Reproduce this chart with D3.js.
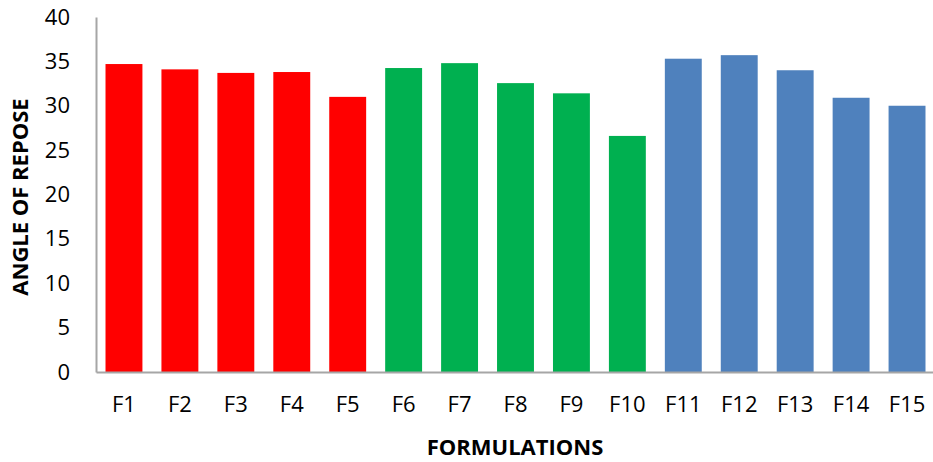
<!DOCTYPE html>
<html><head><meta charset="utf-8">
<script src="https://cdn.jsdelivr.net/npm/d3@7"></script>
<style>body{margin:0;background:#fff}svg{display:block}</style>
</head><body><svg id="c" width="933" height="462"></svg>
<script>
const categories = ["F1","F2","F3","F4","F5","F6","F7","F8","F9","F10","F11","F12","F13","F14","F15"];
const values = [34.7,34.1,33.7,33.8,31.0,34.25,34.8,32.55,31.4,26.6,35.3,35.7,34.0,30.9,30.0];
const groups = ["A","A","A","A","A","B","B","B","B","B","C","C","C","C","C"];
const groupColors = {A:"#FF0000", B:"#00B050", C:"#4F81BD"};
const yTicks = [0,5,10,15,20,25,30,35,40];

const svg = d3.select("#c");
const m = {l:96, r:-2, t:17, b:90};
const W = 933, H = 462;
const x = d3.scaleBand().domain(categories).range([m.l, W - m.r]).paddingInner(0.34).paddingOuter(0.17);
const y = d3.scaleLinear().domain([0,40]).range([H - m.b, m.t]);
const font = "'Open Sans', 'Liberation Sans', sans-serif";

svg.selectAll("rect.bar").data(categories).enter().append("rect")
  .attr("x", d => x(d)).attr("width", x.bandwidth())
  .attr("y", (d,i) => y(values[i])).attr("height", (d,i) => y(0) - y(values[i]))
  .attr("fill", (d,i) => groupColors[groups[i]]);

const ya = svg.append("g").attr("transform", `translate(${m.l},0)`)
  .call(d3.axisLeft(y).tickValues(yTicks).tickSize(0).tickPadding(26));
ya.select(".domain").attr("stroke", "#A6A6A6").attr("stroke-width", 2);
ya.selectAll("text").attr("font-family", font).attr("font-size", 22).attr("fill", "#000");

const xa = svg.append("g").attr("transform", `translate(0,${y(0)})`)
  .call(d3.axisBottom(x).tickSize(0).tickPadding(24));
xa.select(".domain").attr("stroke", "#A6A6A6").attr("stroke-width", 2);
xa.selectAll("text").attr("font-family", font).attr("font-size", 22).attr("fill", "#000");

svg.append("text").attr("x", 515).attr("y", 455).attr("text-anchor", "middle")
  .attr("font-family", font).attr("font-weight", "bold").attr("font-size", 22).text("FORMULATIONS");
svg.append("text").attr("transform", "translate(28,197) rotate(-90)").attr("text-anchor", "middle")
  .attr("font-family", font).attr("font-weight", "bold").attr("font-size", 22).text("ANGLE OF REPOSE");
</script></body></html>
